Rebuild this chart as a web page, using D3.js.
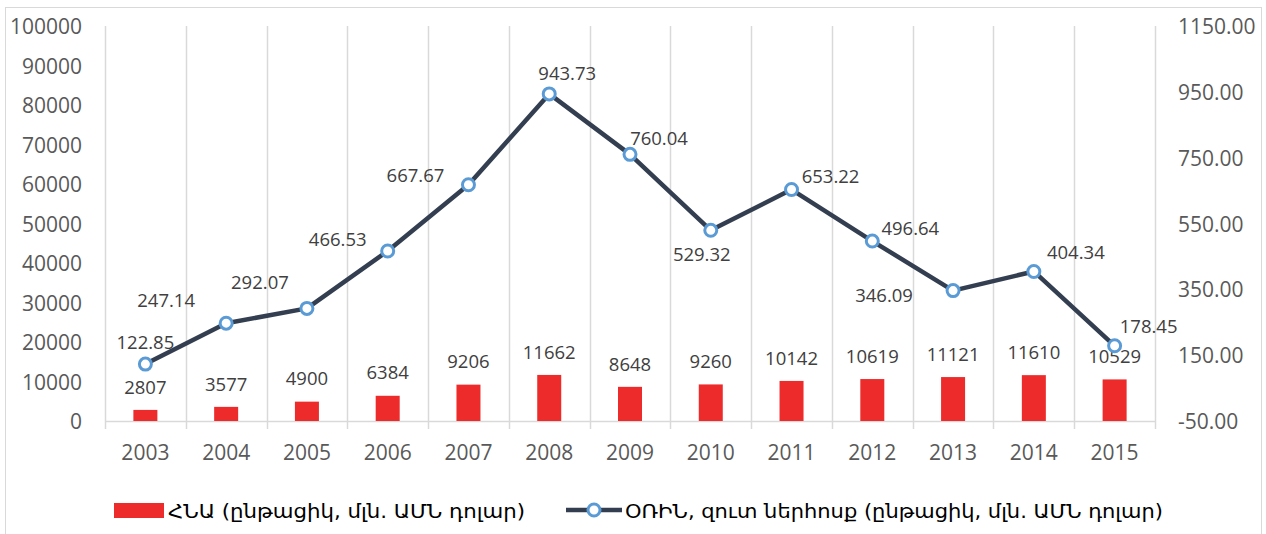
<!DOCTYPE html>
<html><head><meta charset="utf-8">
<script src="https://cdn.jsdelivr.net/npm/d3@7"></script>
<style>body{margin:0;background:#fff}svg{display:block}</style>
</head><body>
<svg id="c" width="1266" height="534"></svg>
<script>
const years = ["2003","2004","2005","2006","2007","2008","2009","2010","2011","2012","2013","2014","2015"];
const gdp = [2807,3577,4900,6384,9206,11662,8648,9260,10142,10619,11121,11610,10529];
const fdi = [122.85,247.14,292.07,466.53,667.67,943.73,760.04,529.32,653.22,496.64,346.09,404.34,178.45];
const leftTicks = [0,10000,20000,30000,40000,50000,60000,70000,80000,90000,100000];
const rightTicks = [-50,150,350,550,750,950,1150];
const legendLabels = ["ՀՆԱ (ընթացիկ, մլն. ԱՄՆ դոլար)","ՕՌԻՆ, զուտ ներհոսք (ընթացիկ, մլն. ԱՄՆ դոլար)"];
// label placement offsets (dx, dy) relative to each line point
const fdiLabelOffsets = [[0,-22],[-60,-23],[-47,-26],[-50,-12],[-53,-9],[18,-21],[29,-16],[-9,24],[39,-13],[38,-13],[-69,5],[42,-19],[34,-19]];

const svg = d3.select("#c");
const L = 105, R = 1155, T = 26, B = 421;
const FONT = "'Open Sans', 'Liberation Sans', sans-serif";
const x = d3.scaleBand().domain(years).range([L, R]).padding(0);
const yL = d3.scaleLinear().domain([0,100000]).range([B, T]);
const yR = d3.scaleLinear().domain([-50,1150]).range([B, T]);

// chart border
svg.append("rect").attr("x",5.5).attr("y",7.5).attr("width",1256).attr("height",560)
  .attr("fill","none").attr("stroke","#D9D9D9").attr("stroke-width",1);

// vertical grid lines at category boundaries (with tick extension)
const bounds = years.map(d => x(d)).concat([R]);
svg.append("g").selectAll("line").data(bounds).join("line")
  .attr("x1", d => Math.round(d)+0.5).attr("x2", d => Math.round(d)+0.5)
  .attr("y1", T).attr("y2", B + 8)
  .attr("stroke", "#D9D9D9").attr("stroke-width", 1.5);
// baseline
svg.append("line").attr("x1",L).attr("x2",R).attr("y1",B+0.5).attr("y2",B+0.5)
  .attr("stroke","#D9D9D9").attr("stroke-width",1.5);

// left axis labels
const axL = d3.axisLeft(yL).tickValues(leftTicks).tickSize(0).tickPadding(0).tickFormat(d3.format("d"));
const gL = svg.append("g").attr("transform",`translate(${82},0)`).call(axL);
gL.select(".domain").remove();
gL.selectAll("text").attr("font-family",FONT).attr("font-size",21).attr("fill","#595959").attr("dy","0.36em");

// right axis labels
const axR = d3.axisRight(yR).tickValues(rightTicks).tickSize(0).tickPadding(0).tickFormat(d => d.toFixed(2));
const gR = svg.append("g").attr("transform",`translate(${1178},0)`).call(axR);
gR.select(".domain").remove();
gR.selectAll("text").attr("font-family",FONT).attr("font-size",21).attr("fill","#595959").attr("dy","0.36em");

// bottom axis labels
const axB = d3.axisBottom(x).tickSize(0).tickPadding(0);
const gB = svg.append("g").attr("transform",`translate(0,${452})`).call(axB);
gB.select(".domain").remove();
gB.selectAll("text").attr("font-family",FONT).attr("font-size",21).attr("fill","#595959").attr("dy","0.36em");

// bars
const bw = 24;
svg.append("g").selectAll("rect").data(gdp).join("rect")
  .attr("x",(d,i)=>x(years[i]) + x.bandwidth()/2 - bw/2)
  .attr("y",d=>yL(d)).attr("width",bw).attr("height",d=>B - yL(d))
  .attr("fill","#EE2B2B");
svg.append("g").selectAll("text").data(gdp).join("text")
  .attr("x",(d,i)=>x(years[i]) + x.bandwidth()/2)
  .attr("y",d=>yL(d) - 23).attr("dy","0.36em")
  .attr("text-anchor","middle").attr("font-family",FONT).attr("font-size",18.5).attr("fill","#404040")
  .text(d=>d);

// line
const cx = i => x(years[i]) + x.bandwidth()/2;
const line = d3.line().x((d,i)=>cx(i)).y(d=>yR(d));
svg.append("path").datum(fdi).attr("d",line).attr("fill","none")
  .attr("stroke","#333F50").attr("stroke-width",4.5).attr("stroke-linejoin","round");
svg.append("g").selectAll("circle").data(fdi).join("circle")
  .attr("cx",(d,i)=>cx(i)).attr("cy",d=>yR(d)).attr("r",6)
  .attr("fill","#fff").attr("stroke","#5B9BD5").attr("stroke-width",3);
svg.append("g").selectAll("text").data(fdi).join("text")
  .attr("x",(d,i)=>cx(i) + fdiLabelOffsets[i][0])
  .attr("y",(d,i)=>yR(d) + fdiLabelOffsets[i][1]).attr("dy","0.36em")
  .attr("text-anchor","middle").attr("font-family",FONT).attr("font-size",18.5).attr("fill","#404040")
  .text(d=>d.toFixed(2));

// legend
const LF = "'DejaVu Sans Condensed', 'DejaVu Sans', sans-serif";
const lg = svg.append("g");
lg.append("rect").attr("x",114).attr("y",503).attr("width",50).attr("height",15).attr("fill","#EE2B2B");
lg.append("text").attr("x",168).attr("y",511).attr("dy","0.35em")
  .attr("font-family",LF).attr("font-size",20).attr("fill","#000")
  .attr("textLength",357).attr("lengthAdjust","spacingAndGlyphs").text(legendLabels[0]);
lg.append("line").attr("x1",566).attr("x2",622).attr("y1",510).attr("y2",510)
  .attr("stroke","#333F50").attr("stroke-width",4.5);
lg.append("circle").attr("cx",594).attr("cy",510).attr("r",6)
  .attr("fill","#fff").attr("stroke","#5B9BD5").attr("stroke-width",3);
lg.append("text").attr("x",625).attr("y",511).attr("dy","0.35em")
  .attr("font-family",LF).attr("font-size",20).attr("fill","#000")
  .attr("textLength",538).attr("lengthAdjust","spacingAndGlyphs").text(legendLabels[1]);
</script>
</body></html>
